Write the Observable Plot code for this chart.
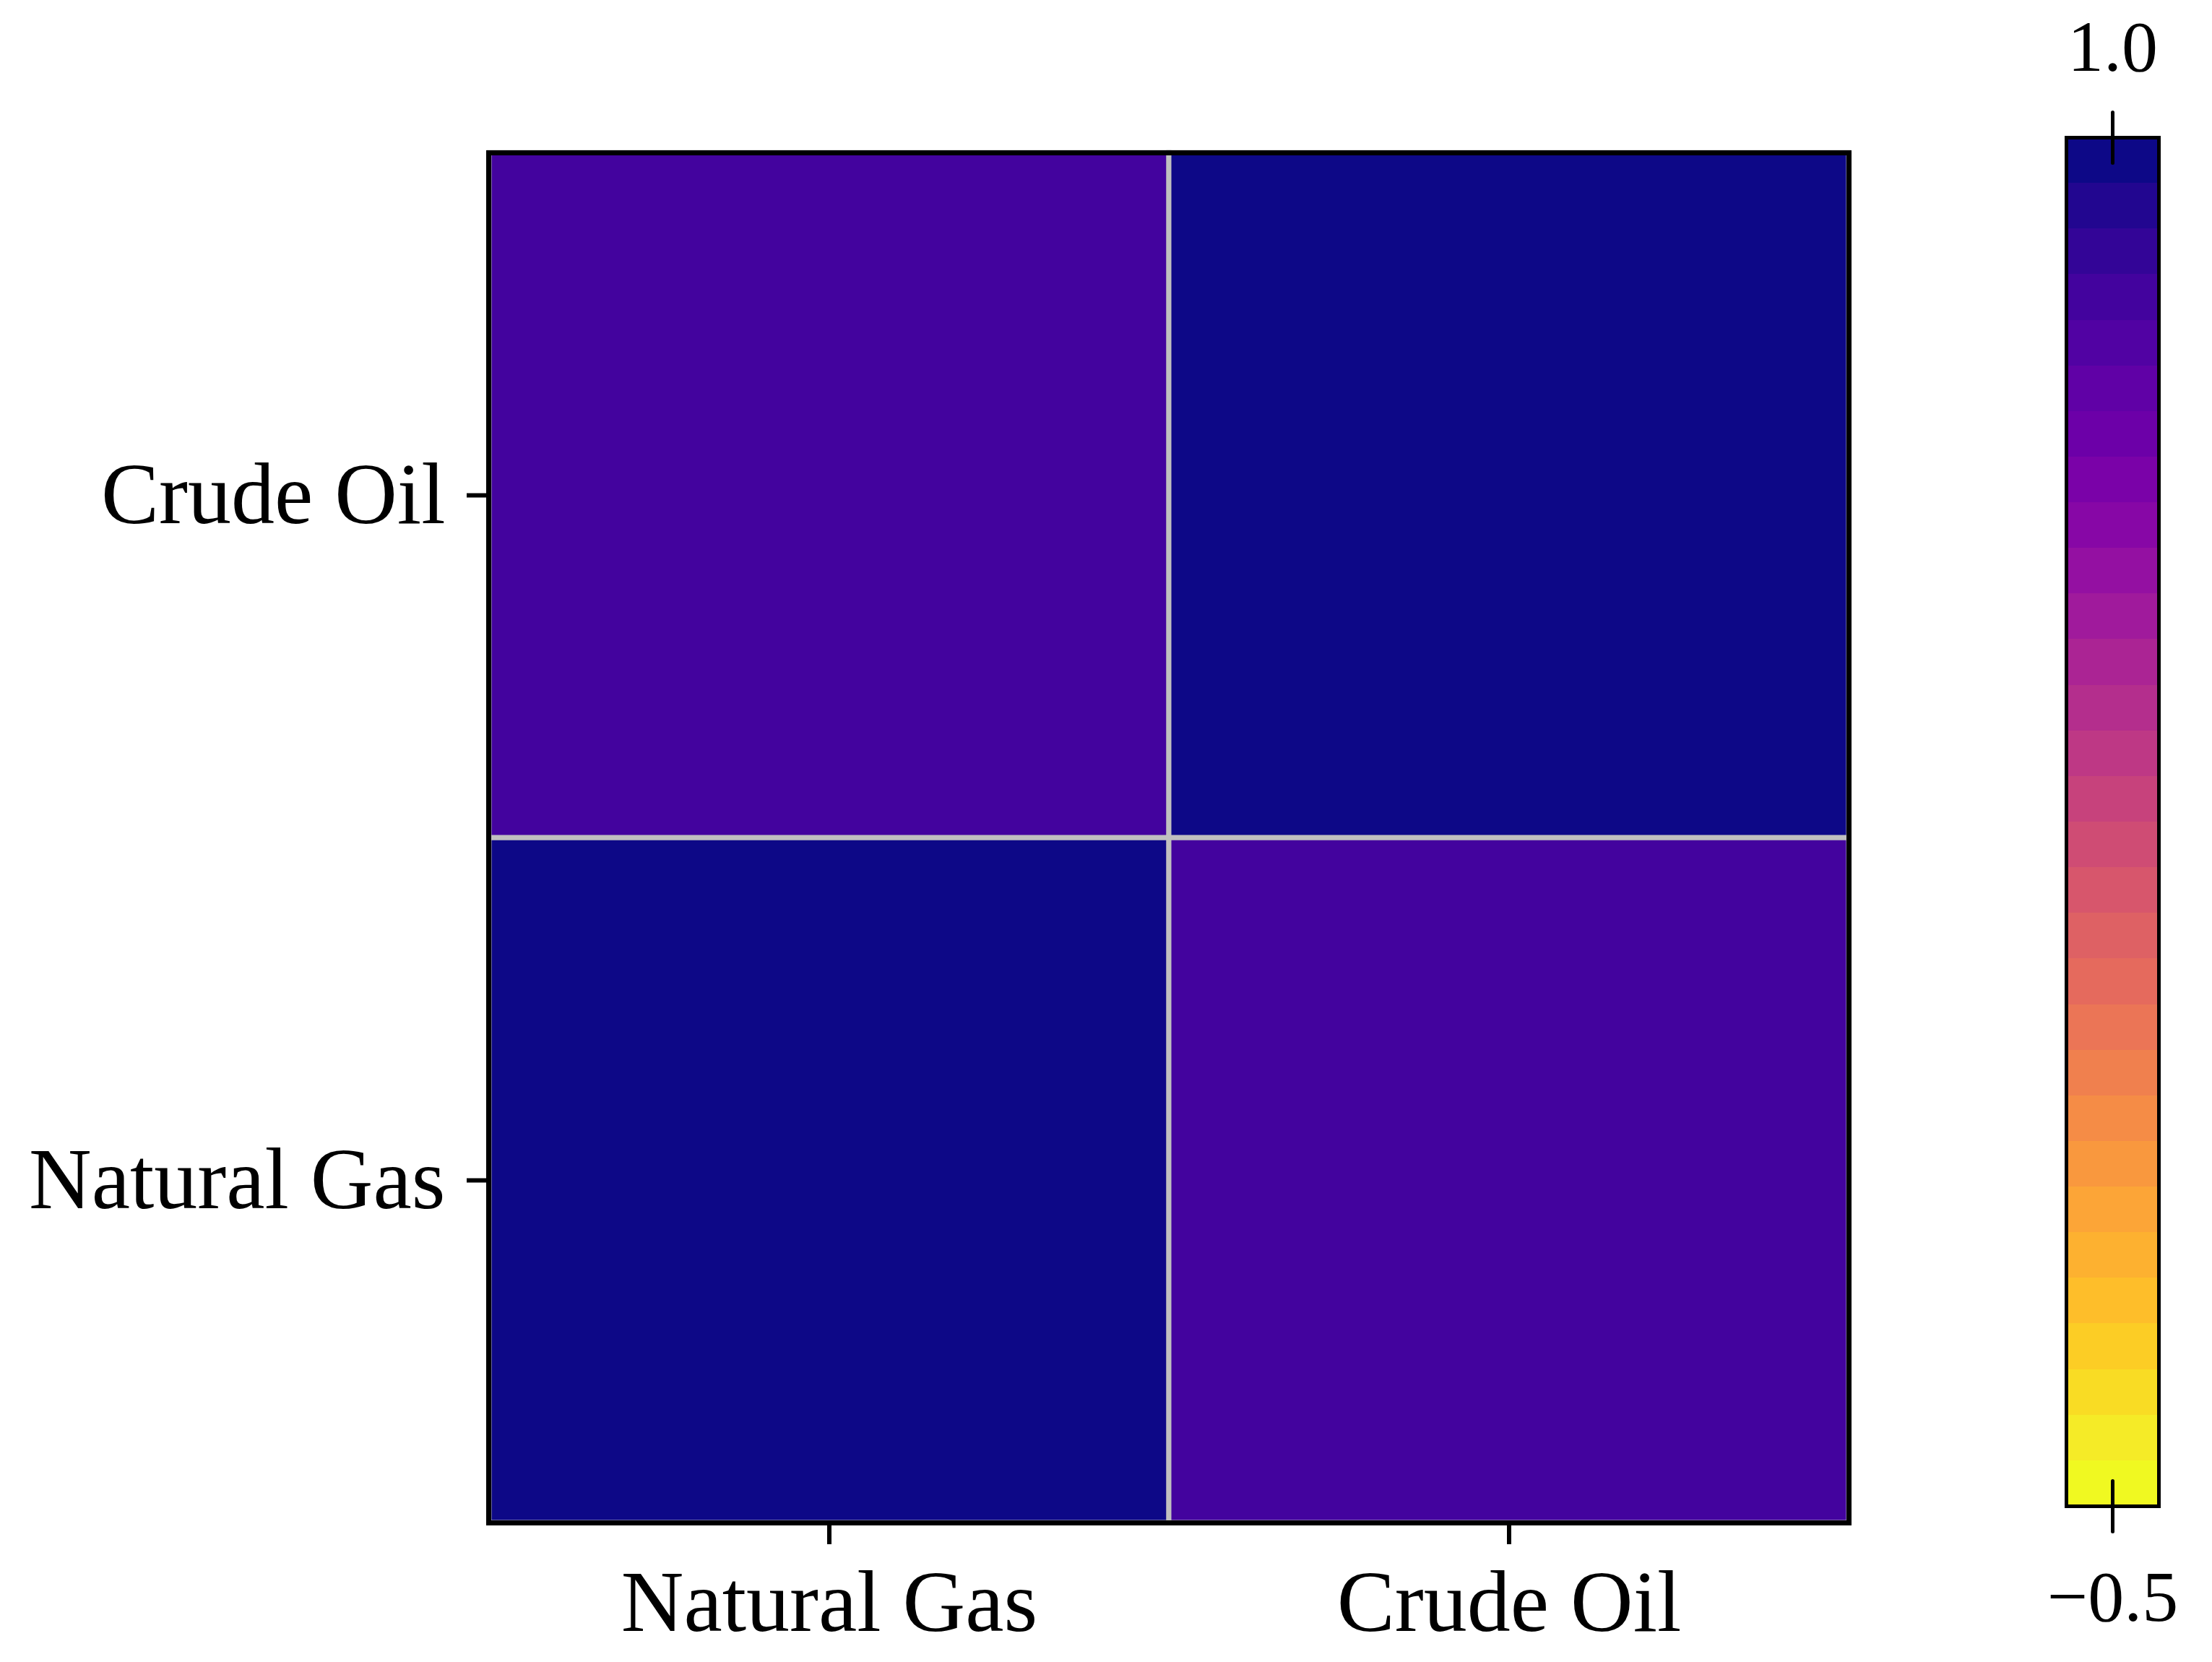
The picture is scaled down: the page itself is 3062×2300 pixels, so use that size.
<!DOCTYPE html>
<html>
<head>
<meta charset="utf-8">
<script src="https://cdn.jsdelivr.net/npm/d3@7"></script>
<script src="https://cdn.jsdelivr.net/npm/@observablehq/plot@0.6"></script>
<style>
  html, body { margin: 0; padding: 0; background: #ffffff; }
  #wrap { position: relative; width: 3062px; height: 2300px; background: #ffffff; overflow: hidden; }
  #main { position: absolute; left: 0; top: 0; width: 2774px; height: 2300px; }
  #cbar { position: absolute; left: 2774px; top: 0; width: 300px; height: 2300px; }
  #main svg, #cbar svg { max-width: none !important; }
</style>
</head>
<body>
<div id="wrap"><div id="main"></div><div id="cbar"></div></div>
<script>
// Data
const xCategories = ["Natural Gas", "Crude Oil"];
const yCategories = ["Crude Oil", "Natural Gas"]; // top to bottom
const commodities = ["Natural Gas", "Crude Oil"];
const correlation = [
  [1.00, 0.83],
  [0.83, 1.00]
];
const colorDomain = [-0.5, 1.0];
const colorbarTicks = [-0.5, 1.0];
const colorLevels = 30;

const cells = [];
commodities.forEach((a, i) => commodities.forEach((b, j) => {
  cells.push({x: a, y: b, value: correlation[i][j]});
}));

const font = "'Liberation Serif', 'Times New Roman', Times, serif";
const colorOpts = {type: "quantize", n: colorLevels, scheme: "plasma", reverse: true, domain: colorDomain};

const main = Plot.plot({
  width: 2774,
  height: 2300,
  marginLeft: 676,
  marginRight: 2774 - 2559,
  marginTop: 211,
  marginBottom: 2300 - 2107,
  style: {fontFamily: font, background: "white", color: "black", maxWidth: "none"},
  x: {type: "band", domain: xCategories, padding: 0, label: null},
  y: {type: "band", domain: yCategories, padding: 0, label: null},
  color: colorOpts,
  marks: [
    Plot.cell(cells, {x: "x", y: "y", fill: "value", stroke: "#c0c0c0", strokeWidth: 7, inset: 0}),
    Plot.frame({stroke: "black", strokeWidth: 7}),
    Plot.axisX({tickSize: 30, tickPadding: 34, fontSize: 120, strokeWidth: 6, label: null, fill: "black", stroke: "black"}),
    Plot.axisY({tickSize: 30, tickPadding: 30, fontSize: 120, strokeWidth: 6, label: null, fill: "black", stroke: "black"})
  ]
});
document.getElementById("main").appendChild(main);

// Colorbar (legend) built from the color scale domain
const step = (colorDomain[1] - colorDomain[0]) / colorLevels;
const bands = d3.range(colorLevels).map(i => ({
  y1: colorDomain[0] + i * step,
  y2: colorDomain[0] + (i + 1) * step,
  mid: colorDomain[0] + (i + 0.5) * step
}));
const fmt = d3.format(".1f");
const topTick = colorbarTicks.filter(d => d === colorDomain[1]);
const bottomTick = colorbarTicks.filter(d => d === colorDomain[0]);
const cbar = Plot.plot({
  width: 300,
  height: 2300,
  marginLeft: 86,
  marginRight: 86,
  marginTop: 190,
  marginBottom: 2300 - 2084,
  style: {fontFamily: font, background: "transparent", color: "black", maxWidth: "none"},
  y: {domain: colorDomain, axis: null},
  color: colorOpts,
  marks: [
    Plot.rect(bands, {y1: "y1", y2: "y2", fill: "mid", shapeRendering: "crispEdges"}),
    Plot.frame({stroke: "black", strokeWidth: 5}),
    Plot.vector(colorbarTicks, {
      y: d => d, length: 70, stroke: "black", strokeWidth: 5, anchor: "start",
      shape: {draw(context, l) { context.moveTo(0, -l / 2); context.lineTo(0, l / 2); }}
    }),
    Plot.text(topTick, {y: d => d, text: d => fmt(d), fontSize: 100, fill: "black", dy: -125}),
    Plot.text(bottomTick, {y: d => d, text: d => fmt(d), fontSize: 100, fill: "black", dy: 126})
  ]
});
document.getElementById("cbar").appendChild(cbar);
</script>
</body>
</html>
